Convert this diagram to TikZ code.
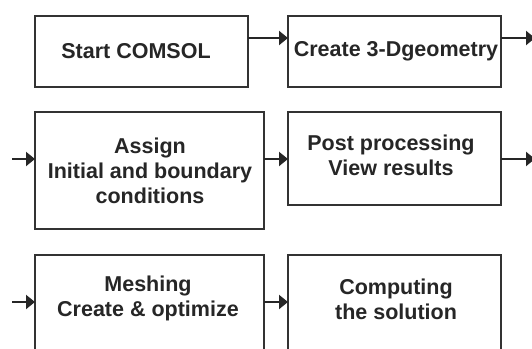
\documentclass[tikz,border=0pt]{standalone}
\usepackage{fontspec}
\setmainfont{Liberation Sans}
\usetikzlibrary{arrows.meta}
\begin{document}
\begin{tikzpicture}[x=1pt,y=-1pt,
  box/.style={draw=black!80,line width=2pt,rectangle,inner sep=0pt,outer sep=0pt,fill=white},
  txt/.style={font=\fontsize{21.5}{25}\selectfont\bfseries,text=black!85,align=center,inner sep=0pt},
  arr/.style={draw=black!85,line width=2pt,-{Triangle[length=9pt,width=14pt]}}]
\fill[white] (0,0) rectangle (532,348);
\clip (0,0) rectangle (532,348);
\useasboundingbox (0,0) rectangle (532,348);
% boxes
\node[box,minimum width=213pt,minimum height=71pt] (b1) at (141.5,51.5) {};
\node[box,minimum width=213pt,minimum height=71pt] (b2) at (394.5,51.5) {};
\node[box,minimum width=229pt,minimum height=117pt] (b3) at (149.5,170.5) {};
\node[box,minimum width=213pt,minimum height=93pt] (b4) at (394.5,158.5) {};
\node[box,minimum width=229pt,minimum height=110pt] (b5) at (149.5,310) {};
\node[box,minimum width=213pt,minimum height=110pt] (b6) at (394.5,310) {};
% texts
\node[txt] (t1) at (136,51) {Start COMSOL};
\node[txt] (t2) at (396,51) {Create 3-Dgeometry};
\node[txt] (t3) at (150,171) {Assign\\Initial and boundary\\conditions};
\node[txt] (t4) at (391,155) {Post processing\\View results};
\node[txt] (t5) at (148,298) {Meshing\\Create \& optimize};
\node[txt] (t6) at (396,299) {Computing\\the solution};
% row levels and free ends
\coordinate (r1) at (0,38);
\coordinate (r2) at (0,159);
\coordinate (r3) at (0,302);
\coordinate (o1) at (535,38);
\coordinate (o2) at (535,159);
\coordinate (i2) at (12,159);
\coordinate (i3) at (12,302);
% connectors
\draw[arr] (b1.east |- r1) -- (b2.west |- r1);
\draw[arr] (b2.east |- r1) -- (o1);
\draw[arr] (i2) -- (b3.west |- r2);
\draw[arr] (b3.east |- r2) -- (b4.west |- r2);
\draw[arr] (b4.east |- r2) -- (o2);
\draw[arr] (i3) -- (b5.west |- r3);
\draw[arr] (b5.east |- r3) -- (b6.west |- r3);
\end{tikzpicture}
\end{document}
